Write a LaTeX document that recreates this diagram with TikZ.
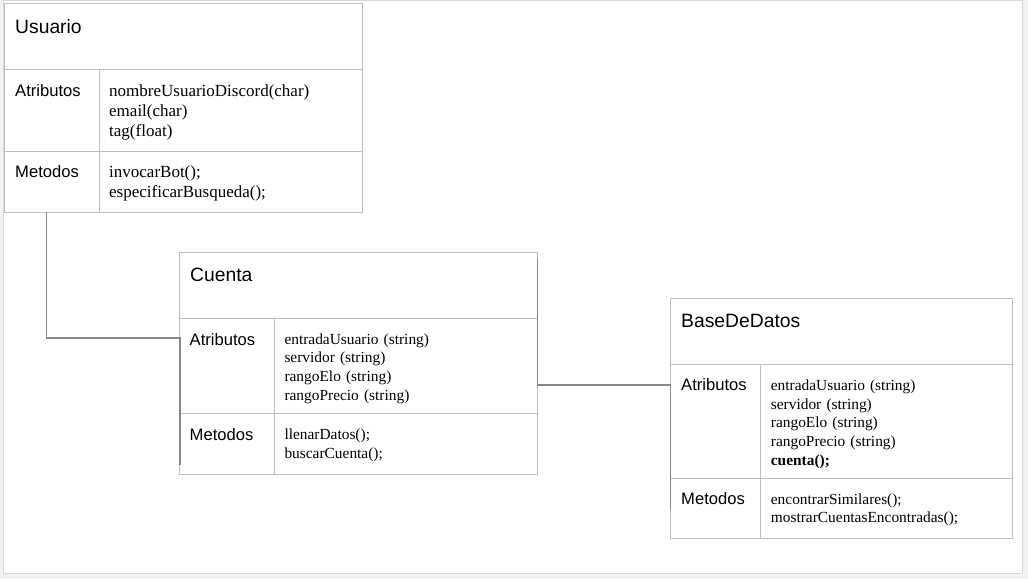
\documentclass[tikz,border=0pt]{standalone}
\usepackage{fontspec}
\setmainfont{Liberation Serif}
\setsansfont{Liberation Sans}
\usetikzlibrary{positioning,calc}
\definecolor{cellgray}{RGB}{190,190,190}
\definecolor{linkgray}{RGB}{135,135,135}
\definecolor{deskgray}{RGB}{241,242,243}
\definecolor{pagegray}{RGB}{215,216,218}

\begin{document}
\begin{tikzpicture}
  [x=1pt,y=-1pt,
   cell/.style={draw=cellgray,line width=1pt,anchor=north west,inner sep=0pt,outer sep=0pt},
   titleT/.style={font=\sffamily\fontsize{19.3}{22}\selectfont,anchor=base west,inner sep=0pt},
   labelT/.style={font=\sffamily\fontsize{16.6}{19}\selectfont,anchor=base west,inner sep=0pt},
   entryT/.style={font=\fontsize{15.4}{18.7}\selectfont,anchor=base west,inner sep=0pt,
     text width=240pt,align=left},
   link/.style={draw=linkgray,line width=1.3pt}]

  \useasboundingbox[fill=deskgray] (0,0) rectangle (1028,579);
  \draw[pagegray,fill=white] (3.5,0.5) rectangle (1022.5,573.5);

  % Usuario
  \node[cell,minimum width=358pt,minimum height=66pt] (usuario) at (4,3) {};
  \node[cell,minimum width=95pt,minimum height=82pt] (usuarioAttrL) at (4,69) {};
  \node[cell,minimum width=263pt,minimum height=82pt] (usuarioAttr) at (99,69) {};
  \node[cell,minimum width=95pt,minimum height=61pt] (usuarioMetL) at (4,151) {};
  \node[cell,minimum width=263pt,minimum height=61pt] (usuarioMet) at (99,151) {};

  \node[titleT] (usuarioName) at (15,33.3) {Usuario};
  \node[labelT] (usuarioAttrName) at (15,96) {Atributos};
  \node[entryT,font=\fontsize{17}{20}\selectfont] (usuarioAttrList) at (109,96.7)
    {nombreUsuarioDiscord(char)\\email(char)\\tag(float)};
  \node[labelT] (usuarioMetName) at (15,177.3) {Metodos};
  \node[entryT,font=\fontsize{17}{20}\selectfont] (usuarioMetList) at (109,177.3)
    {invocarBot();\\especificarBusqueda();};

  % Cuenta
  \node[cell,minimum width=358pt,minimum height=66pt] (cuenta) at (179,252) {};
  \node[cell,minimum width=95pt,minimum height=95pt] (cuentaAttrL) at (179,318) {};
  \node[cell,minimum width=263pt,minimum height=95pt] (cuentaAttr) at (274,318) {};
  \node[cell,minimum width=95pt,minimum height=61pt] (cuentaMetL) at (179,413) {};
  \node[cell,minimum width=263pt,minimum height=61pt] (cuentaMet) at (274,413) {};

  \node[titleT] (cuentaName) at (190,281) {Cuenta};
  \node[labelT] (cuentaAttrName) at (189.5,345) {Atributos};
  \node[entryT] (cuentaAttrList) at (284.3,344)
    {entradaUsuario (string)\\servidor (string)\\rangoElo (string)\\rangoPrecio (string)};
  \node[labelT] (cuentaMetName) at (189.5,440) {Metodos};
  \node[entryT] (cuentaMetList) at (284.3,439.3)
    {llenarDatos();\\buscarCuenta();};

  % BaseDeDatos
  \node[cell,minimum width=342pt,minimum height=66pt] (base) at (670,298) {};
  \node[cell,minimum width=90pt,minimum height=114pt] (baseAttrL) at (670,364) {};
  \node[cell,minimum width=252pt,minimum height=114pt] (baseAttr) at (760,364) {};
  \node[cell,minimum width=90pt,minimum height=60pt] (baseMetL) at (670,478) {};
  \node[cell,minimum width=252pt,minimum height=60pt] (baseMet) at (760,478) {};

  \node[titleT] (baseName) at (681,327.3) {BaseDeDatos};
  \node[labelT] (baseAttrName) at (681,390.7) {Atributos};
  \node[entryT] (baseAttrList) at (770.7,390.3)
    {entradaUsuario (string)\\servidor (string)\\rangoElo (string)\\rangoPrecio (string)\\\textbf{cuenta();}};
  \node[labelT] (baseMetName) at (681,504.3) {Metodos};
  \node[entryT] (baseMetList) at (770.7,504)
    {encontrarSimilares();\\mostrarCuentasEncontradas();};

  % connectors
  \draw[link] ([xshift=-4.8pt]usuarioMetL.south)
    |- ([shift={(1pt,-20pt)}]cuentaAttrL.north west)
    -- ([shift={(1pt,9pt)}]cuentaMetL.south west);
  \draw[link] ([shift={(0.5pt,-6pt)}]cuenta.north east)
    |- ([shift={(0.5pt,-21pt)}]baseAttrL.north west)
    -- ([shift={(0.5pt,28pt)}]baseMetL.south west);

\end{tikzpicture}
\end{document}
